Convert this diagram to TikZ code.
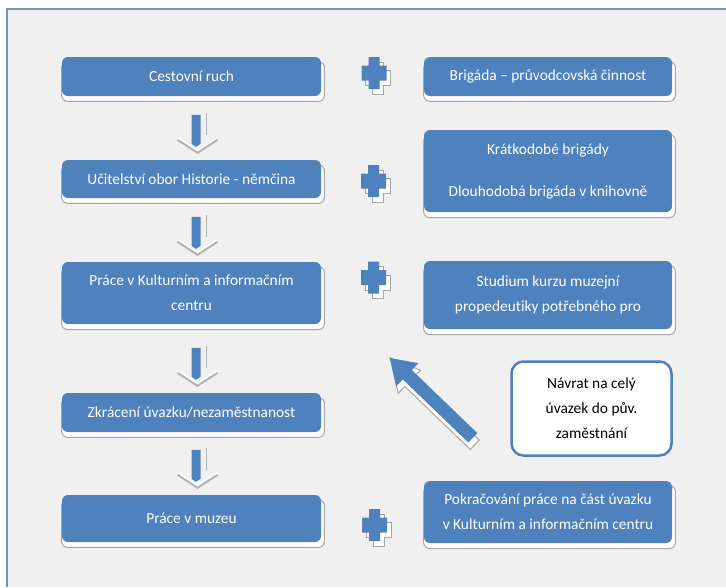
\documentclass[tikz,border=0pt]{standalone}
\usepackage{fontspec}
\setmainfont{Carlito}[Ligatures=CommonOff]
\usetikzlibrary{shadows}
\definecolor{boxblue}{HTML}{4F81BD}
\definecolor{paper}{HTML}{F0F0F0}
\definecolor{framecol}{HTML}{7A92B6}

\tikzset{
  stage/.style={rounded corners=6pt, fill=boxblue, text=white, align=center,
    font=\fontsize{15.4}{25}\selectfont, inner sep=0pt,
    general shadow={fill=white, draw=black!35, line width=1pt,
      shadow xshift=1.5pt, shadow yshift=-5pt, shadow scale=1.015}},
  note/.style={rounded corners=12pt, fill=white, draw=boxblue, line width=2.5pt,
    align=center, font=\fontsize{15.4}{25}\selectfont, inner sep=0pt},
}
\newcommand{\crosspath}{(-5.5,-16) -- (5.5,-16) -- (5.5,-7.5) -- (12.5,-7.5) -- (12.5,7.5)
  -- (5.5,7.5) -- (5.5,16) -- (-5.5,16) -- (-5.5,7.5) -- (-12.5,7.5) -- (-12.5,-7.5)
  -- (-5.5,-7.5) -- cycle}
\newcommand{\plusmark}[2]{%
  \begin{scope}[shift={(#1,#2)}]
    \filldraw[fill=white, draw=black!35, line width=1pt, shift={(4,5)}] \crosspath;
    \fill[boxblue] \crosspath;
  \end{scope}}
\newcommand{\flowdown}[1]{%
  \begin{scope}[shift={([xshift=6pt,yshift=7pt]#1.north)}]
    \draw[white, line width=2pt] (-20,-15) -- (0,-2) -- (20,-15);
    \draw[black!30, line width=2pt] (-20,-13) -- (0,0) -- (20,-13);
    \fill[boxblue] (-6,-38) -- (3,-38) -- (3,-9) -- (-1.5,-6) -- (-6,-9) -- cycle;
    \draw[black!30, line width=1pt] (9,-40) -- (9,-18);
  \end{scope}}

\begin{document}
\begin{tikzpicture}[x=1pt,y=-1pt]
    \useasboundingbox (0,0) rectangle (726,587);
    \fill[white] (0,0) rectangle (726,587);
    \fill[paper] (7,9) rectangle (726,587);
    \draw[framecol, line width=1.5pt] (7,587) -- (7,9) -- (727,9);

    % left column
    \node[stage, minimum width=259pt, minimum height=39pt] (cest) at (191.5,76.5) {Cestovní ruch};
    \node[stage, minimum width=259pt, minimum height=38pt] (ucit) at (191.5,179) {Učitelství obor Historie - němčina};
    \node[stage, minimum width=259pt, minimum height=62pt] (kic) at (191.5,293) {Práce v Kulturním a informačním\\centru};
    \node[stage, minimum width=259pt, minimum height=39pt] (zkrac) at (191.5,412.5) {Zkrácení úvazku/nezaměstnanost};
    \node[stage, minimum width=259pt, minimum height=47pt] (muzeum) at (191.5,518.5) {Práce v muzeu};

    % right column
    \node[stage, minimum width=248pt, minimum height=39pt] (brig) at (548,76.5) {Brigáda – průvodcovská činnost};
    \node[stage, minimum width=248pt, minimum height=82pt] (kratk) at (548,171) {Krátkodobé brigády\\[17pt]Dlouhodobá brigáda v knihovně};
    \node[stage, minimum width=248pt, minimum height=68pt] (kurz) at (548,295) {Studium kurzu muzejní\\propedeutiky potřebného pro};
    \node[stage, minimum width=248pt, minimum height=62pt] (pokr) at (548,512) {Pokračování práce na část úvazku\\v Kulturním a informačním centru};
    \node[note, minimum width=160pt, minimum height=94pt] (navrat) at (591.5,408.5) {Návrat na celý\\úvazek do pův.\\zaměstnání};

    % arrows down
    \flowdown{ucit}
    \flowdown{kic}
    \flowdown{zkrac}
    \flowdown{muzeum}

    % plus signs
    \plusmark{374}{73}
    \plusmark{373.5}{181}
    \plusmark{373.5}{277.5}
    \plusmark{374.5}{525}

    % return arrow
    \coordinate (retTip) at (390,358);
    \coordinate (retTail) at (473,438);
    \filldraw[fill=white, draw=black!35, line width=1pt, shift={(2,7)}] (retTip) -- (418.4,363.2)
      -- (411.8,370) -- (477.3,433.1) -- (468.3,442.5) -- (402.8,379.4) -- (396.2,386.2) -- cycle;
    \fill[boxblue] (retTip) -- (418.4,363.2) -- (411.8,370) -- (477.3,433.1)
      -- (468.3,442.5) -- (402.8,379.4) -- (396.2,386.2) -- cycle;
\end{tikzpicture}
\end{document}
